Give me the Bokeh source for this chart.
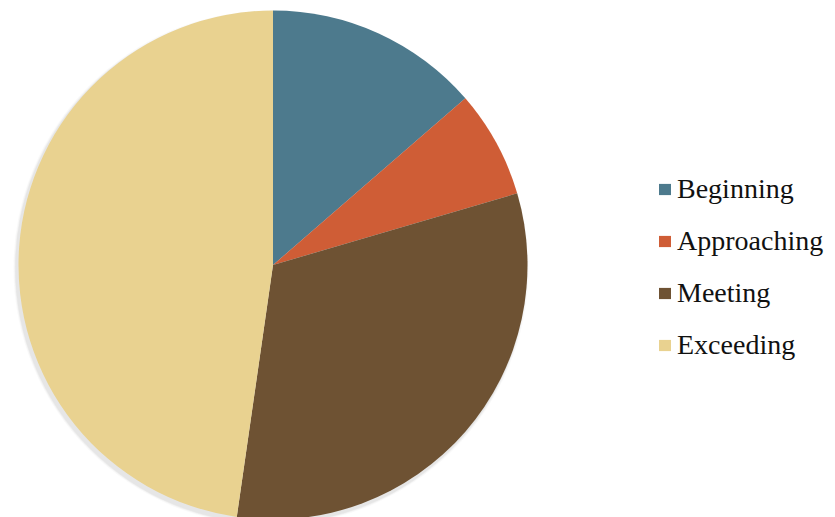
import numpy as np
from bokeh.plotting import figure
from bokeh.models import Range1d, ColumnDataSource, Legend, LegendItem
from bokeh.embed import file_html
from bokeh.resources import INLINE

categories = ["Beginning", "Approaching", "Meeting", "Exceeding"]
values = [6, 3, 14, 21]
colors = ["#4D7A8D", "#CF5D36", "#6E5233", "#E9D290"]

W, H = 835, 517
cx, cy, r = 272.5, H - 264.5, 254.5

vals = np.array(values, dtype=float)
frac = vals / vals.sum()
cum = np.concatenate([[0], np.cumsum(frac)])
start = np.pi / 2 - 2 * np.pi * cum[1:]
end = np.pi / 2 - 2 * np.pi * cum[:-1]

src = ColumnDataSource(dict(cat=categories, start=start, end=end, color=colors))

p = figure(width=W, height=H, x_range=Range1d(0, W), y_range=Range1d(0, H),
           output_backend="svg", toolbar_location=None,
           x_axis_location=None, y_axis_location=None, min_border=0)
p.grid.visible = False
p.outline_line_color = None
p.background_fill_color = "white"
p.border_fill_color = "white"

# soft drop shadow
for k, a in [(6, 0.05), (4, 0.07), (2.5, 0.09)]:
    p.circle(x=cx - 2, y=cy - 3, radius=r + k * 0.5, fill_color="#808080",
             fill_alpha=a, line_color=None)

rend = p.wedge(x=cx, y=cy, radius=r, start_angle="start", end_angle="end",
               direction="anticlock", fill_color="color", line_color=None,
               source=src)

items = [LegendItem(label=c, renderers=[rend], index=i) for i, c in enumerate(categories)]
legend = Legend(items=items, location=(657, 156), orientation="vertical",
                label_text_font="Liberation Serif", label_text_font_size="28px",
                label_text_color="#111111", glyph_width=15, glyph_height=14,
                label_standoff=5, spacing=20, padding=0, margin=0,
                border_line_color=None, background_fill_alpha=0)
p.add_layout(legend, "center")

open("out.html", "w").write(file_html(p, INLINE))
